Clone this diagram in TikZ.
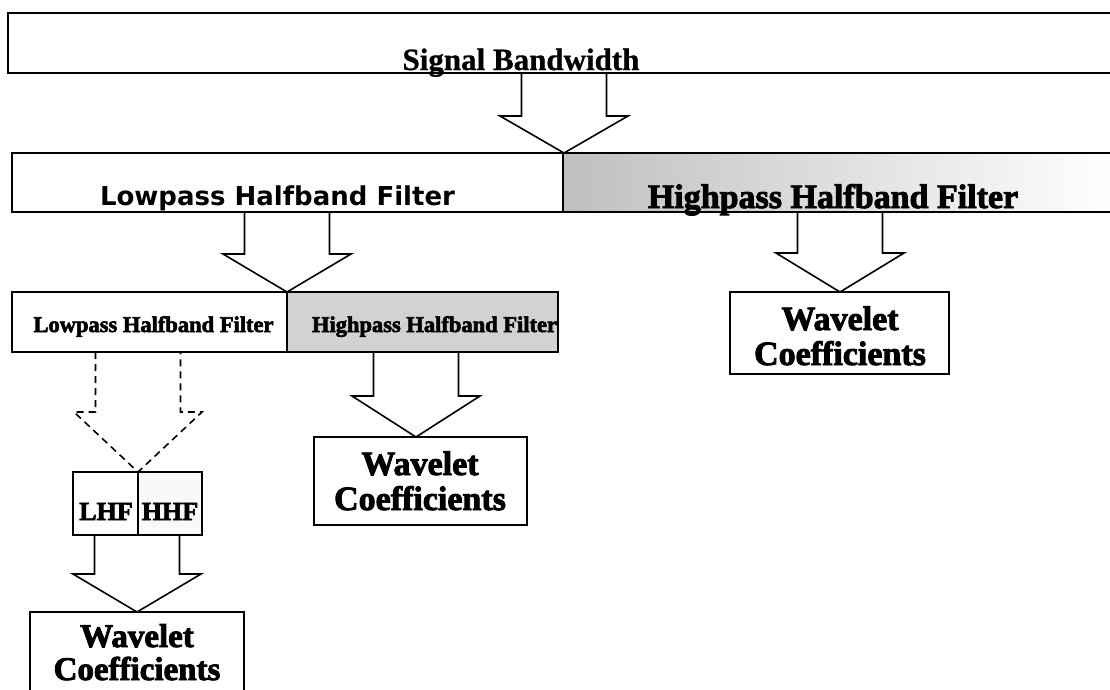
\documentclass[tikz,border=0pt]{standalone}
\usepackage{fontspec}
\setmainfont{Liberation Serif}
\newfontfamily\sansb{DejaVu Sans}
\newfontfamily\heavy{Liberation Serif Bold}[FakeBold=2.6]
\newfontfamily\semiheavy{Liberation Serif Bold}[FakeBold=0.8]
\usetikzlibrary{calc}
\tikzset{
  box/.style={draw, line width=2pt, inner sep=0pt, outer sep=0pt, anchor=north west},
  blk/.style={draw, line width=1.6pt, line join=miter},
  lbl/.style={inner sep=0pt, anchor=base},
}
\newcommand\fsz[1]{\fontsize{#1}{#1}\selectfont}
% block arrow: [style]{source node}{tip coordinate}{head height}
\newcommand\barrow[4][]{%
  \draw[blk,#1] let \p1=(#3), \p2=(#2.south) in
   (\x1-42.5pt,\y2) -- (\x1-42.5pt,\y1+#4) -- (\x1-64pt,\y1+#4) -- (\x1,\y1)
   -- (\x1+64pt,\y1+#4) -- (\x1+42.5pt,\y1+#4) -- (\x1+42.5pt,\y2);}
\begin{document}
\begin{tikzpicture}[x=1pt,y=-1pt]
\useasboundingbox (0,0) rectangle (1110,689);
\clip (0,0) rectangle (1110,689);
\fill[white] (0,0) rectangle (1110,689);

% boxes
\node[box, minimum width=1110, minimum height=60] (sig) at (8,13) {};
\node[box, minimum width=551, minimum height=59] (low2) at (12,153) {};
\node[box, minimum width=555, minimum height=59, left color=gray!50, middle color=gray!22, right color=white] (hi2) at (563,153) {};
\node[box, minimum width=275, minimum height=60] (low3) at (12,292) {};
\node[box, minimum width=271, minimum height=60, fill=gray!35] (hi3) at (287,292) {};
\node[box, minimum width=219, minimum height=82] (wc1) at (730,292) {};
\node[box, minimum width=213, minimum height=88] (wc2) at (314,437) {};
\node[box, minimum width=65, minimum height=63] (lhf) at (73,472) {};
\node[box, minimum width=64, minimum height=63, fill=gray!5] (hhf) at (138,472) {};
\node[box, minimum width=214, minimum height=90] (wc3) at (30,612) {};

% labels
\node[lbl, font=\semiheavy\fsz{31}] (tsig) at (521,70) {Signal Bandwidth};
\node[lbl, font=\sansb\bfseries\fsz{26}] (tlow2) at (277.5,205) {Lowpass Halfband Filter};
\node[lbl, font=\heavy\fsz{34}] (thi2) at (833,208) {Highpass Halfband Filter};
\node[lbl, font=\heavy\fsz{22.5}] (tlow3) at (153.5,332) {Lowpass Halfband Filter};
\node[lbl, font=\heavy\fsz{22.5}] (thi3) at (434.5,332) {Highpass Halfband Filter};
\node[lbl, font=\heavy\fsz{26}] (tlhf) at (106,520) {LHF};
\node[lbl, font=\heavy\fsz{26}] (thhf) at (170,520) {HHF};
\node[lbl, font=\heavy\fsz{34}] (w1a) at (840,330) {Wavelet};
\node[lbl, font=\heavy\fsz{34}] (w1b) at (840,365) {Coefficients};
\node[lbl, font=\heavy\fsz{34}] (w2a) at (420,475) {Wavelet};
\node[lbl, font=\heavy\fsz{34}] (w2b) at (420,510) {Coefficients};
\node[lbl, font=\heavy\fsz{33}] (w3a) at (137,647) {Wavelet};
\node[lbl, font=\heavy\fsz{33}] (w3b) at (137,680) {Coefficients};

% arrow tips
\coordinate (tp1) at (564,153);
\coordinate (tp2) at (287,292);
\coordinate (tp3) at (840,292);
\coordinate (tp4) at (416,437);
\coordinate (tp5) at (138,472);
\coordinate (tp6) at (137,612);

\barrow{sig}{tp1}{37pt}
\barrow{low2}{tp2}{38pt}
\barrow{hi2}{tp3}{39pt}
\barrow{hi3}{tp4}{41pt}
\barrow[dash pattern=on 7pt off 5pt]{low3}{tp5}{60pt}
\barrow{lhf}{tp6}{38pt}
\end{tikzpicture}
\end{document}
